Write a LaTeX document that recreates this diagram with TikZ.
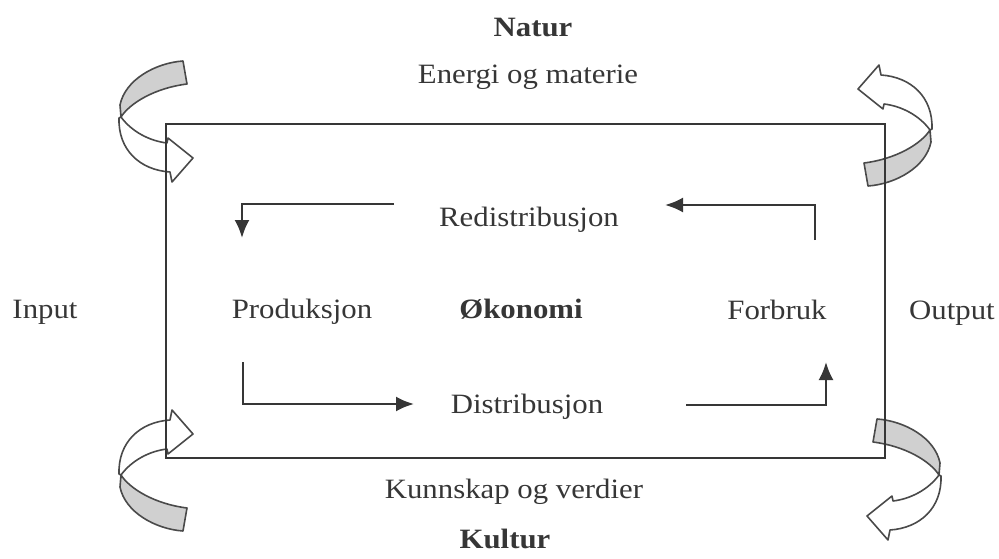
\documentclass[tikz,border=0pt]{standalone}
\usepackage{fontspec}
\setmainfont{Liberation Serif}[FakeStretch=1.1]
\usetikzlibrary{arrows.meta}
\definecolor{ink}{HTML}{363636}
\definecolor{rib}{HTML}{4A4A4A}
\definecolor{shade}{HTML}{D0D0D0}
\tikzset{
  lbl/.style={anchor=base, inner sep=0pt, text=ink, font=\fontsize{28}{32}\selectfont},
  blbl/.style={lbl, font=\fontsize{28}{32}\selectfont\bfseries},
  flow/.style={draw=ink, line width=2.4pt, -{Latex[length=18pt,width=15pt]}},
  ribback/.style={draw=rib, line width=1.6pt, fill=shade, line join=round},
  ribfront/.style={draw=rib, line width=1.6pt, fill=white, line join=round},
  frame/.style={draw=ink, line width=2pt, inner sep=0pt, minimum width=719pt, minimum height=334pt}
}
\newcommand{\ribbon}{%
  \path[ribback] (183,61) .. controls (155,63) and (125,80) .. (120,105)
     -- (121,117) .. controls (130,103) and (155,88) .. (187,84) -- cycle;
  \path[ribfront] (121,117) .. controls (132,132) and (150,141) .. (167,143)
     -- (168,138) -- (193,158) -- (172,182) -- (170,172)
     .. controls (140,170) and (118,150) .. (119,118) -- cycle;
}
\begin{document}
\begin{tikzpicture}[x=1pt, y=-1pt]
\useasboundingbox (0,0) rectangle (999,559);
% ribbons
\begin{scope}\ribbon\end{scope}
\begin{scope}[yshift=-592pt, yscale=-1]\ribbon\end{scope}
\begin{scope}[xshift=1051pt, yshift=-247pt, xscale=-1, yscale=-1]\ribbon\end{scope}
\begin{scope}[xshift=1060pt, yshift=-358pt, xscale=-1]\ribbon\end{scope}
% frame
\node[frame] (box) at (525.5,291) {};
% labels
\node[blbl] (natur) at (533,37) {Natur};
\node[lbl] (energi) at (528,84) {Energi og materie};
\node[lbl] (redis) at (529,226) {Redistribusjon};
\node[lbl] (input) at (45,318) {Input};
\node[lbl] (prod) at (302,318) {Produksjon};
\node[blbl] (okon) at (521,318) {Økonomi};
\node[lbl] (forb) at (777,319) {Forbruk};
\node[lbl] (output) at (952,319) {Output};
\node[lbl] (dist) at (527,413) {Distribusjon};
\node[lbl] (kunn) at (514,498) {Kunnskap og verdier};
\node[blbl] (kultur) at (505,548) {Kultur};
% flow arrows
\coordinate (r1) at (394,204);
\coordinate (r2) at (242,204);
\coordinate (r3) at (242,238);
\coordinate (p1) at (243,362);
\coordinate (p2) at (243,404);
\coordinate (p3) at (414,404);
\coordinate (d1) at (686,405);
\coordinate (d2) at (826,405);
\coordinate (d3) at (826,362);
\coordinate (f1) at (815,240);
\coordinate (f2) at (815,205);
\coordinate (f3) at (665,205);
\draw[flow] (r1) -- (r2) -- (r3);
\draw[flow] (p1) -- (p2) -- (p3);
\draw[flow] (d1) -- (d2) -- (d3);
\draw[flow] (f1) -- (f2) -- (f3);
\end{tikzpicture}
\end{document}
